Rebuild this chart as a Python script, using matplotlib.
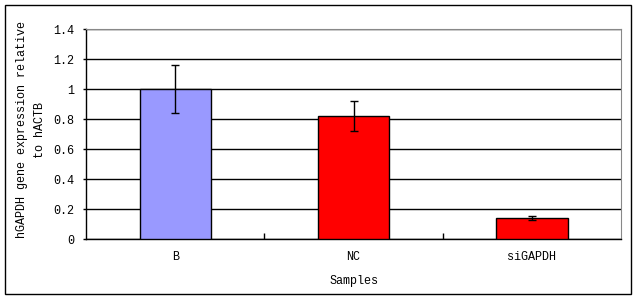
import numpy as np
import matplotlib.pyplot as plt
from matplotlib.patches import Rectangle

samples = ["B", "NC", "siGAPDH"]
expression = [1.0, 0.82, 0.14]
errors = [0.16, 0.10, 0.015]
bar_colors = ["#9999ff", "#ff0000", "#ff0000"]
y_ticks = [0, 0.2, 0.4, 0.6, 0.8, 1.0, 1.2, 1.4]
y_tick_labels = ["0", "0.2", "0.4", "0.6", "0.8", "1", "1.2", "1.4"]

plt.rcParams['font.family'] = ['Liberation Mono', 'DejaVu Sans Mono']

fig = plt.figure(figsize=(6.37, 3.0), dpi=100)
# outer chart frame
fig.patches.append(Rectangle((5 / 637, 6 / 300), 626 / 637, 289 / 300,
                             transform=fig.transFigure, fill=False,
                             edgecolor='black', linewidth=1))

ax = fig.add_axes([86 / 637, 61 / 300, 535 / 637, 210 / 300])
x = np.arange(len(samples))
ax.bar(x, expression, width=0.4, color=bar_colors, edgecolor='black',
       linewidth=1, zorder=3)
ax.errorbar(x, expression, yerr=errors, fmt='none', ecolor='black',
            elinewidth=1, capsize=3, capthick=1, zorder=4)

ax.set_xlim(-0.5, 2.5)
ax.set_ylim(0, 1.4)
ax.set_yticks(y_ticks)
ax.set_yticklabels(y_tick_labels, fontsize=8.5)
ax.yaxis.grid(True, color='black', linewidth=1, zorder=0)
ax.tick_params(axis='y', length=2, width=1, pad=6.5)

ax.set_xticks(x)
ax.set_xticklabels(samples, fontsize=8.5)
ax.tick_params(axis='x', length=0, pad=9)
ax.set_xticks([0.5, 1.5], minor=True)
ax.tick_params(axis='x', which='minor', direction='in', length=4, width=1)

ax.spines['top'].set_color('#888888')
ax.spines['right'].set_color('#888888')
ax.spines['left'].set_linewidth(1)
ax.spines['bottom'].set_linewidth(1)

ax.set_xlabel('Samples', fontsize=8.5, labelpad=8)
fig.text(31 / 637, 1 - 130 / 300, 'hGAPDH gene expression relative\nto hACTB',
         rotation=90, ha='center', va='center', multialignment='center',
         fontsize=8.5, linespacing=1.6)

fig.savefig('out.png', dpi=100)
